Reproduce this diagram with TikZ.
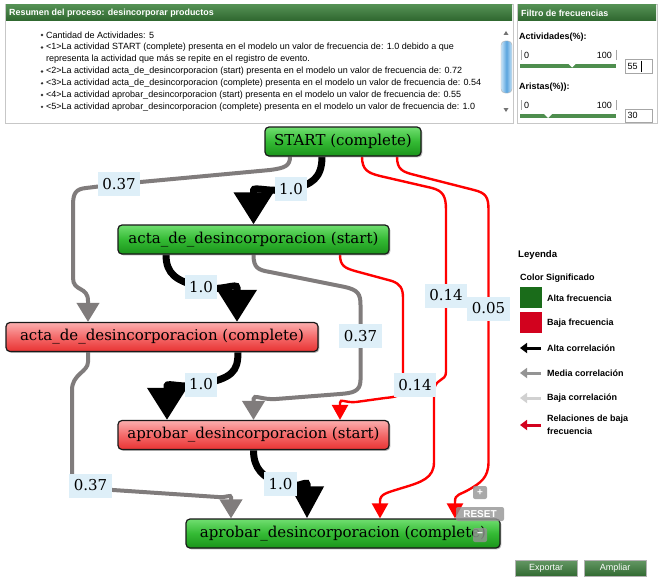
\documentclass[tikz,border=0pt]{standalone}
\usepackage{fontspec}
\setmainfont{Liberation Sans}
\newfontfamily\gvfont{DejaVu Serif}
\usetikzlibrary{arrows.meta,shadows}
\pgfdeclarelayer{bg}
\pgfdeclarelayer{edges}
\pgfsetlayers{bg,edges,main}

\definecolor{hdrtop}{RGB}{84,144,84}
\definecolor{hdrbot}{RGB}{46,102,46}
\definecolor{hitop}{RGB}{112,222,112}
\definecolor{himid}{RGB}{52,186,52}
\definecolor{hibot}{RGB}{26,148,26}
\definecolor{lotop}{RGB}{251,174,174}
\definecolor{lomid}{RGB}{244,106,106}
\definecolor{lobot}{RGB}{232,50,50}
\definecolor{lblbg}{RGB}{222,239,248}
\definecolor{edgegray}{RGB}{128,124,124}
\definecolor{edgered}{RGB}{255,0,0}
\definecolor{legreen}{RGB}{26,108,26}
\definecolor{lered}{RGB}{210,2,30}
\definecolor{sliderc}{RGB}{78,142,78}
\definecolor{btntop}{RGB}{100,152,100}
\definecolor{btnbot}{RGB}{50,106,50}
\definecolor{scrlside}{RGB}{200,228,248}
\definecolor{scrlmid}{RGB}{90,164,222}

\begin{document}
\begin{tikzpicture}[x=1pt,y=-1pt,
  uitext/.style={anchor=west,inner sep=0pt,font=\fontsize{9}{10}\selectfont},
  uibold/.style={anchor=west,inner sep=0pt,font=\bfseries\fontsize{9}{10}\selectfont},
  hdrtext/.style={anchor=west,inner sep=0pt,text=white,font=\bfseries\fontsize{8.9}{10}\selectfont},
  hdrbar/.style={top color=hdrtop,bottom color=hdrbot},
  panelbox/.style={draw=black!22,line width=0.8pt,fill=white},
  act/.style={draw=black!90,line width=1.2pt,rounded corners=4pt,inner sep=0pt,
    minimum height=29pt,font=\gvfont\fontsize{15}{17}\selectfont,
    drop shadow={shadow xshift=1.3pt,shadow yshift=-1.3pt,opacity=0.55}},
  hifreq/.style={act,top color=hitop,bottom color=hibot,middle color=himid},
  lofreq/.style={act,top color=lotop,bottom color=lobot,middle color=lomid},
  elab/.style={fill=lblbg,inner xsep=4.5pt,inner ysep=0pt,minimum height=24pt,
    font=\gvfont\fontsize{15}{17}\selectfont},
  hiedge/.style={line width=7pt,black,-{Triangle[width=38pt,length=32pt]}},
  midedge/.style={line width=4pt,edgegray,-{Triangle[width=22pt,length=19pt]}},
  lowedge/.style={line width=2.4pt,edgered,-{Triangle[width=16pt,length=15pt]}},
  legarrow/.style={line width=3pt,-{Triangle[width=10pt,length=7pt]}},
  btn/.style={top color=btntop,bottom color=btnbot,draw=black!30,inner sep=0pt,
    minimum width=62pt,minimum height=16pt,text=white,font=\fontsize{9}{10}\selectfont},
  zoomctl/.style={fill=black!42,fill opacity=0.8,text opacity=1,text=white,
    rounded corners=2pt,inner sep=0pt,font=\bfseries\fontsize{10}{11}\selectfont},
  inbox/.style={draw=black!35,fill=white,line width=0.6pt}
]
\useasboundingbox (0,0) rectangle (660,578);
\begin{pgfonlayer}{bg}
  \fill[white] (0,0) rectangle (660,578);
\end{pgfonlayer}

% ---------- summary panel ----------
\draw[panelbox] (5,4) rectangle (513,123);
\fill[hdrbar] (6,5) rectangle (512,21);
\node[hdrtext] (sumhdr) at (9,13) {Resumen del proceso: desincorporar productos};
\foreach \yy in {35,47.5,71.5,83.3,95,106.8}
  \fill[black!80] (42,\yy) circle[radius=1.3pt];
\node[uitext] (s0) at (46,35) {Cantidad de Actividades: 5};
\node[uitext] (s1) at (46,47.5) {<1>La actividad START (complete) presenta en el modelo un valor de frecuencia de: 1.0 debido a que};
\node[uitext] (s1b) at (46,59.5) {representa la actividad que más se repite en el registro de evento.};
\node[uitext] (s2) at (46,71.5) {<2>La actividad acta\_de\_desincorporacion (start) presenta en el modelo un valor de frecuencia de: 0.72};
\node[uitext] (s3) at (46,83.3) {<3>La actividad acta\_de\_desincorporacion (complete) presenta en el modelo un valor de frecuencia de: 0.54};
\node[uitext] (s4) at (46,95) {<4>La actividad aprobar\_desincorporacion (start) presenta en el modelo un valor de frecuencia de: 0.55};
\node[uitext] (s5) at (46,106.8) {<5>La actividad aprobar\_desincorporacion (complete) presenta en el modelo un valor de frecuencia de: 1.0};
% scrollbar
\fill[black!55] (503.5,35) -- (508.5,35) -- (506,31) -- cycle;
\fill[black!55] (503.5,108) -- (508.5,108) -- (506,112) -- cycle;
\draw[draw=black!30,rounded corners=4pt,left color=scrlside,right color=scrlside,middle color=scrlmid]
  (501,41) rectangle (512,93);

% ---------- filter panel ----------
\draw[panelbox] (517,4) rectangle (657,123);
\fill[hdrbar] (518,5) rectangle (656,21);
\node[hdrtext] (filthdr) at (521,13) {Filtro de frecuencias};
\node[uibold] (actlbl) at (519,37) {Actividades(\%):};
\draw[black!35,line width=0.6pt] (521,50) -- (521,60) (616,50) -- (616,60);
\node[uitext] (a0) at (524,55) {0};
\node[uitext,anchor=east] (a100) at (612,55) {100};
\fill[sliderc] (520,63.5) rectangle (616,67.5);
\fill[white] (568,63.5) -- (576,63.5) -- (572,67.5) -- cycle;
\draw[inbox] (625,59) rectangle (652,73);
\node[uitext] (aval) at (627.5,66.3) {55};
\draw[black,line width=0.7pt] (641,60.5) -- (641,71.5);
\node[uibold] (arilbl) at (519,87) {Aristas(\%)):};
\draw[black!35,line width=0.6pt] (521,100) -- (521,110) (616,100) -- (616,110);
\node[uitext] (b0) at (524,105) {0};
\node[uitext,anchor=east] (b100) at (612,105) {100};
\fill[sliderc] (520,114) rectangle (616,118);
\fill[white] (544,114) -- (552,114) -- (548,118) -- cycle;
\draw[inbox] (625,109) rectangle (652,122);
\node[uitext] (bval) at (627.5,115.8) {30};

% ---------- activities ----------
\node[hifreq,minimum width=156pt] (START) at (343,141.5) {START (complete)};
\node[hifreq,minimum width=271pt] (ACTS) at (253.5,239.5) {acta\_de\_desincorporacion (start)};
\node[lofreq,minimum width=312pt] (ACTC) at (162,337) {acta\_de\_desincorporacion (complete)};
\node[lofreq,minimum width=271pt] (APS) at (253.5,435) {aprobar\_desincorporacion (start)};
\node[hifreq,minimum width=314pt] (APC) at (343,533.5) {aprobar\_desincorporacion (complete)};

% ---------- edge labels ----------
\node[elab] (L1) at (291,189) {1.0};
\node[elab] (L2) at (119,184) {0.37};
\node[elab] (L3) at (446,295.5) {0.14};
\node[elab] (L4) at (488.5,308.5) {0.05};
\node[elab] (L5) at (201,287) {1.0};
\node[elab] (L6) at (360.5,336) {0.37};
\node[elab] (L7) at (415,385) {0.14};
\node[elab] (L8) at (90.5,485.5) {0.37};
\node[elab] (L9) at (201,384.5) {1.0};
\node[elab] (L10) at (280.5,484) {1.0};

% ---------- edges ----------
\begin{pgfonlayer}{edges}
% strong relations
\draw[hiedge] ([xshift=-21pt]START.south) .. controls (322,178) and (312,185) .. (L1.center)
  .. controls (270,193) and (253.5,186) .. ([yshift=34pt]ACTS.north) -- (ACTS.north);
\draw[hiedge] ([xshift=-87.5pt]ACTS.south) .. controls (166,274) and (176,281) .. (L5.center)
  .. controls (222,292) and (237,282) .. ([xshift=75pt,yshift=34pt]ACTC.north) -- ([xshift=75pt]ACTC.north);
\draw[hiedge] ([xshift=76pt]ACTC.south) .. controls (238,372) and (232,378) .. (L9.center)
  .. controls (184,389) and (167,382) .. ([xshift=-86.5pt,yshift=34pt]APS.north) -- ([xshift=-86.5pt]APS.north);
\draw[hiedge,-{Triangle[width=32pt,length=32pt]}] (APS.south) .. controls (253.5,468) and (262,477) .. (L10.center)
  .. controls (296,490) and (307,480) .. ([xshift=-36pt,yshift=34pt]APC.north) -- ([xshift=-36pt]APC.north);
% medium relations
\draw[midedge] ([xshift=-53pt]START.south) .. controls (290,166) and (285,168) .. (270,170)
  -- (L2.center) -- (86,188) .. controls (76,189) and (73,193) .. (73,205) -- (73,278)
  .. controls (73,292) and (88,286) .. ([xshift=-74pt,yshift=21pt]ACTC.north) -- ([xshift=-74pt]ACTC.north);
\draw[midedge] (ACTS.south) .. controls (253.5,268) and (258,270) .. (270,272) -- (345,287)
  .. controls (358,290) and (360.5,294) .. (360.5,305) -- (L6.center) -- (360.5,380)
  .. controls (360.5,392) and (352,393) .. (340,394) -- (276,399)
  .. controls (262,400) and (253.5,394) .. ([yshift=21pt]APS.north) -- (APS.north);
\draw[midedge] ([xshift=-74pt]ACTC.south) -- (88,362) .. controls (88,372) and (72,374) .. (72,390)
  -- (72,482) .. controls (72,487) and (80,488) .. (113,490) -- (218,497)
  .. controls (226,498) and (231,494) .. ([xshift=-112pt,yshift=21pt]APC.north) -- ([xshift=-112pt]APC.north);
% low-frequency relations
\draw[lowedge] ([xshift=19pt]START.south) .. controls (362,170) and (368,173) .. (380,176) -- (432,188)
  .. controls (443,191) and (446,196) .. (446,210) -- (L3.center) -- (446,372)
  .. controls (446,382) and (434,378) .. (434,392) -- (434,462)
  .. controls (434,478) and (422,482) .. (402,488) .. controls (386,493) and (380,494) ..
  ([xshift=37pt,yshift=17pt]APC.north) -- ([xshift=37pt]APC.north);
\draw[lowedge] ([xshift=54pt]START.south) .. controls (397,170) and (403,172) .. (415,175) -- (474,190)
  .. controls (486,193) and (488.5,197) .. (488.5,210) -- (L4.center) -- (488.5,462)
  .. controls (488.5,478) and (480,483) .. (470,489) .. controls (460,495) and (455,494) ..
  ([xshift=112pt,yshift=17pt]APC.north) -- ([xshift=112pt]APC.north);
\draw[lowedge] ([xshift=86.5pt]ACTS.south) .. controls (340,266) and (345,268) .. (355,271) -- (392,281)
  .. controls (400,284) and (403,288) .. (403,298) -- (403,388)
  .. controls (403,396) and (395,397) .. (385,398) -- (356,402)
  .. controls (345,403) and (340,398) .. ([xshift=86.5pt,yshift=17pt]APS.north) -- ([xshift=86.5pt]APS.north);
\end{pgfonlayer}

% ---------- zoom controls ----------
\node[zoomctl,minimum width=14pt,minimum height=13pt] (zin) at (480,492.5) {+};
\node[zoomctl,minimum width=48pt,minimum height=14pt] (zreset) at (480,514) {RESET};
\node[zoomctl,minimum width=14pt,minimum height=14pt] (zout) at (480,535) {−};

% ---------- legend ----------
\node[uibold,font=\bfseries\fontsize{9.6}{11}\selectfont] (leg) at (518,255) {Leyenda};
\node[uibold] (legcol) at (520,278) {Color Significado};
\fill[legreen] (520,287) rectangle (542,308);
\fill[lered] (520,312) rectangle (542,333);
\node[uibold] (lg1) at (547,298) {Alta frecuencia};
\node[uibold] (lg2) at (547,323) {Baja frecuencia};
\draw[legarrow,black] (541,348) -- (520,348);
\node[uibold] (lg3) at (547,348) {Alta correlación};
\draw[legarrow,black!42] (541,373) -- (520,373);
\node[uibold] (lg4) at (547,373) {Media correlación};
\draw[legarrow,black!18] (541,398) -- (520,398);
\node[uibold] (lg5) at (547,398) {Baja correlación};
\draw[legarrow,lered] (541,425) -- (520,425);
\node[uibold] (lg6) at (547,419.5) {Relaciones de baja};
\node[uibold] (lg7) at (547,431) {frecuencia};

% ---------- buttons ----------
\node[btn] (bexp) at (546,568) {Exportar};
\node[btn] (bamp) at (615,568) {Ampliar};
\end{tikzpicture}
\end{document}
